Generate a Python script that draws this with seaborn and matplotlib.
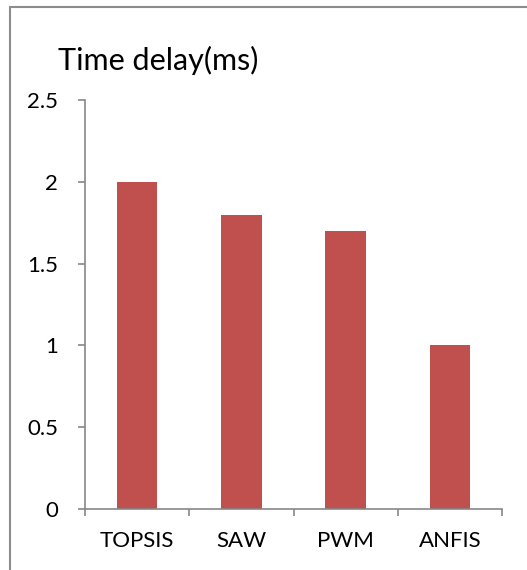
import matplotlib
matplotlib.use("Agg")
import matplotlib.pyplot as plt
from matplotlib.lines import Line2D
import seaborn as sns
import pandas as pd

methods = ["TOPSIS", "SAW", "PWM", "ANFIS"]
delay_ms = [2.0, 1.8, 1.7, 1.0]
y_ticks = [0, 0.5, 1, 1.5, 2, 2.5]
y_tick_labels = ["0", "0.5", "1", "1.5", "2", "2.5"]

sns.set_style("white")
plt.rcParams["font.family"] = ["Lato", "DejaVu Sans"]

df = pd.DataFrame({"method": methods, "delay": delay_ms})

W, H = 527, 570
fig = plt.figure(figsize=(W / 100, H / 100), dpi=100)
ax = fig.add_axes([85 / W, 1 - 509 / H, (502 - 85) / W, (509 - 100) / H])

sns.barplot(data=df, x="method", y="delay", color="#C0504D", saturation=1,
            width=0.39, ax=ax, edgecolor="none")

ax.set_ylim(0, 2.5)
ax.set_xlim(-0.5, len(methods) - 0.5)
ax.set_yticks(y_ticks)
ax.set_yticklabels(y_tick_labels)
ax.set_xlabel("")
ax.set_ylabel("")

axis_gray = "#878787"
for side in ("top", "right"):
    ax.spines[side].set_visible(False)
for side in ("left", "bottom"):
    ax.spines[side].set_color(axis_gray)
    ax.spines[side].set_linewidth(1.2)

# category ticks sit between bars, value ticks point outward
ax.set_xticks([i - 0.5 for i in range(len(methods) + 1)], minor=True)
ax.tick_params(axis="x", which="major", length=0, labelsize=16, pad=15.5, labelcolor="black")
ax.tick_params(axis="x", which="minor", length=5, width=1.2, color=axis_gray, direction="out")
ax.tick_params(axis="y", which="major", length=5, width=1.2, color=axis_gray,
               direction="out", labelsize=16, pad=14.5, labelcolor="black")
ax.tick_params(left=True, bottom=True)
ax.xaxis.set_tick_params(which="minor", bottom=True)

fig.text(58 / W, 1 - 60 / H, "Time delay(ms)", fontsize=22, color="black",
         ha="left", va="center")

# chart-area frame
frame_gray = "#8c8c8c"
fig.add_artist(Line2D([9.5 / W, 9.5 / W], [0, 1 - 7 / H], transform=fig.transFigure,
                      color=frame_gray, lw=1.5))
fig.add_artist(Line2D([9.5 / W, 1], [1 - 7 / H, 1 - 7 / H], transform=fig.transFigure,
                      color=frame_gray, lw=1.5))

fig.savefig("out.png", dpi=100, facecolor="white")
